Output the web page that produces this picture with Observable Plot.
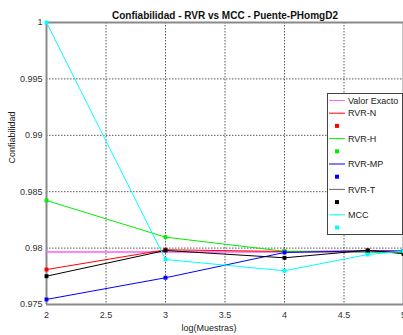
<!DOCTYPE html>
<html>
<head>
<meta charset="utf-8">
<script src="https://cdn.jsdelivr.net/npm/d3@7"></script>
<script src="https://cdn.jsdelivr.net/npm/@observablehq/plot@0.6"></script>
<style>
  html, body { margin: 0; padding: 0; background: white; overflow: hidden; }
  #wrap { position: relative; width: 403px; height: 335px; }
  #legend { position: absolute; left: 327px; top: 93px; }
</style>
</head>
<body>
<div id="wrap"><div id="chart"></div><svg id="legend" width="76" height="142"></svg></div>
<script>
const title = "Confiabilidad - RVR vs MCC - Puente-PHomgD2";
const xLabel = "log(Muestras)";
const yLabel = "Confiabilidad";

const xs = [2, 3, 4, 4.699, 5];
const valorExacto = [0.97965, 0.97965, 0.97965, 0.97965, 0.97965];
const rvrN  = [0.97810, 0.97985, 0.97970, 0.97975, 0.97970];
const rvrH  = [0.98422, 0.98097, 0.97972, 0.97965, 0.97960];
const rvrMP = [0.97545, 0.97737, 0.97961, 0.97976, 0.97975];
const rvrT  = [0.97751, 0.97979, 0.97914, 0.97981, 0.97950];
const mcc   = [1.00000, 0.97899, 0.97799, 0.97943, 0.97973];

const seriesNames  = ["RVR-N", "RVR-H", "RVR-MP", "RVR-T", "MCC"];
const seriesValues = [rvrN, rvrH, rvrMP, rvrT, mcc];
const seriesColors = ["#ff0000", "#00ee00", "#0000ff", "#000000", "#00ffff"];
const exactName = "Valor Exacto";
const exactColor = "#ff66ff";

const xTicks = [2, 2.5, 3, 3.5, 4, 4.5, 5];
const xTickLabels = ["2", "2.5", "3", "3.5", "4", "4.5", "5"];
const yTicks = [0.975, 0.98, 0.985, 0.99, 0.995, 1];
const yTickLabels = ["0.975", "0.98", "0.985", "0.99", "0.995", "1"];

const rows = [];
seriesNames.forEach((name, i) => {
  xs.forEach((x, j) => rows.push({series: name, x, y: seriesValues[i][j], color: seriesColors[i]}));
});
const exactRows = xs.map((x, j) => ({x, y: valorExacto[j]}));

const font = "'Liberation Sans', Arial, Helvetica, sans-serif";

const chart = Plot.plot({
  width: 403,
  height: 335,
  marginLeft: 46,
  marginRight: 0,
  marginTop: 22,
  marginBottom: 31,
  style: {fontFamily: font, fontSize: "9px", color: "#333", background: "white"},
  x: {domain: [2, 5]},
  y: {domain: [0.975, 1]},
  marks: [
    Plot.gridX(xTicks, {stroke: "#222", strokeOpacity: 0.75, strokeDasharray: "1.5,1.5"}),
    Plot.gridY(yTicks, {stroke: "#222", strokeOpacity: 0.75, strokeDasharray: "1.5,1.5"}),
    Plot.ruleY([0.975, 1], {stroke: "#8a8a8a", strokeWidth: 2}),
    Plot.ruleX([2, 5], {stroke: "#8a8a8a", strokeWidth: 2}),
    Plot.axisX({ticks: xTicks, tickFormat: (d, i) => xTickLabels[i], tickSize: 0, tickPadding: 7, label: null, fill: "#333"}),
    Plot.axisY({ticks: yTicks, tickFormat: (d, i) => yTickLabels[i], tickSize: 0, tickPadding: 4, label: null, fill: "#333"}),
    Plot.text([xLabel], {frameAnchor: "bottom", dy: 24, dx: -16, fontSize: 9, fill: "#222", lineAnchor: "middle"}),
    Plot.text([yLabel], {frameAnchor: "left", dx: -34, rotate: -90, fontSize: 9, fill: "#222"}),
    Plot.text([title], {frameAnchor: "top", dy: -11, fontSize: 10, fontWeight: "bold", fill: "#111"}),
    Plot.line(exactRows, {x: "x", y: "y", stroke: exactColor, strokeWidth: 2, strokeOpacity: 0.8}),
    Plot.line(rows, {x: "x", y: "y", z: "series", stroke: "color", strokeWidth: 1}),
    Plot.dot(rows, {x: "x", y: "y", fill: "color", symbol: "square", r: 2.2})
  ]
});
document.getElementById("chart").appendChild(chart);

// legend
const legendItems = [{label: exactName, color: exactColor, marker: false}];
seriesNames.forEach((n, i) => {
  legendItems.push({label: n, color: i === 3 ? "#666" : seriesColors[i], marker: false});
  legendItems.push({label: "", color: seriesColors[i], marker: true});
});
const lg = d3.select("#legend");
lg.append("rect").attr("x", 0.5).attr("y", 0.5).attr("width", 75).attr("height", 141)
  .attr("fill", "white").attr("stroke", "#444").attr("stroke-width", 1);
legendItems.forEach((d, i) => {
  const cy = 7.5 + i * 12.7;
  if (d.marker) {
    lg.append("rect").attr("x", 8).attr("y", cy - 2).attr("width", 4).attr("height", 4).attr("fill", d.color);
  } else {
    lg.append("line").attr("x1", 2).attr("x2", 18).attr("y1", cy).attr("y2", cy)
      .attr("stroke", d.color).attr("stroke-width", 1);
    lg.append("text").attr("x", 21).attr("y", cy).attr("dy", "0.35em")
      .attr("font-family", font).attr("font-size", 9).attr("fill", "#222").text(d.label);
  }
});
</script>
</body>
</html>
